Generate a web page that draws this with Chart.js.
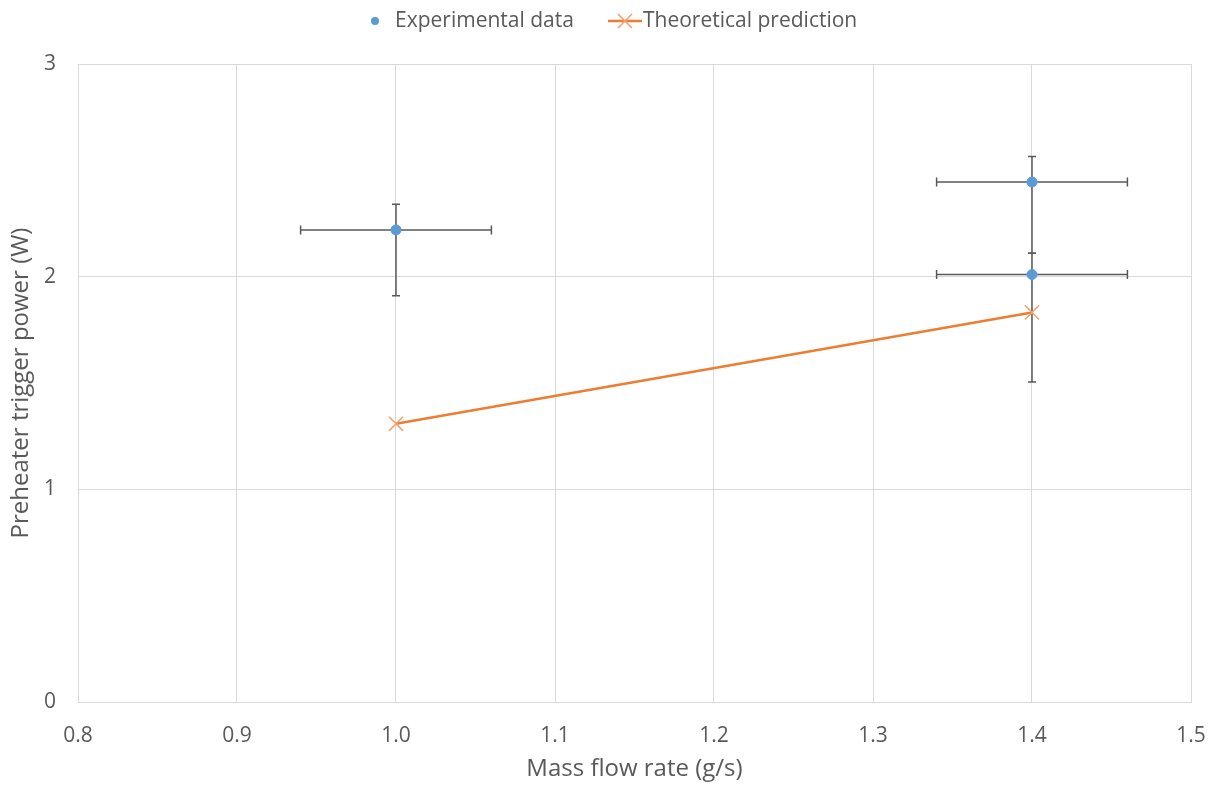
<!DOCTYPE html>
<html>
<head>
<meta charset="utf-8">
<script src="https://cdn.jsdelivr.net/npm/chart.js@4.4.0/dist/chart.umd.min.js"></script>
<style>
html,body{margin:0;padding:0;background:#fff;}
#wrap{width:1215px;height:785px;position:relative;}
</style>
</head>
<body>
<div id="wrap"><canvas id="c" width="1215" height="785"></canvas></div>
<script>
// Data
const expX = [1.0, 1.4, 1.4];
const expY = [2.22, 2.445, 2.01];
const expYPlus = [0.12, 0.12, 0.10];
const expYMinus = [0.31, 0.335, 0.505];
const expXErr = [0.06, 0.06, 0.06];
const theoX = [1.0, 1.4];
const theoY = [1.308, 1.832];
const xTicks = [0.8, 0.9, 1.0, 1.1, 1.2, 1.3, 1.4, 1.5];
const yTicks = [0, 1, 2, 3];
const seriesNames = ['Experimental data', 'Theoretical prediction'];
const axisTitles = {x: 'Mass flow rate (g/s)', y: 'Preheater trigger power (W)'};

const FONT = "'Open Sans', sans-serif";
const BLUE = '#5B9BD5';
const ORANGE = '#ED7D31';
const ORANGE_MK = 'rgba(244,160,110,1)';
const ERR = '#595959';
const TXT = '#595959';

const errorBars = {
  id: 'errorBars',
  beforeDatasetsDraw(chart) {
    const {ctx, scales: {x, y}} = chart;
    ctx.save();
    ctx.strokeStyle = ERR;
    ctx.lineWidth = 1.5;
    for (let i = 0; i < expX.length; i++) {
      const cx = x.getPixelForValue(expX[i]);
      const cy = y.getPixelForValue(expY[i]);
      const yt = y.getPixelForValue(expY[i] + expYPlus[i]);
      const yb = y.getPixelForValue(expY[i] - expYMinus[i]);
      const xl = x.getPixelForValue(expX[i] - expXErr[i]);
      const xr = x.getPixelForValue(expX[i] + expXErr[i]);
      ctx.beginPath();
      ctx.moveTo(cx, yt); ctx.lineTo(cx, yb);
      ctx.moveTo(cx - 4, yt); ctx.lineTo(cx + 4, yt);
      ctx.moveTo(cx - 4, yb); ctx.lineTo(cx + 4, yb);
      ctx.moveTo(xl, cy); ctx.lineTo(xr, cy);
      ctx.moveTo(xl, cy - 4.5); ctx.lineTo(xl, cy + 4.5);
      ctx.moveTo(xr, cy - 4.5); ctx.lineTo(xr, cy + 4.5);
      ctx.stroke();
    }
    ctx.restore();
  }
};

const legendPlugin = {
  id: 'customLegend',
  afterDraw(chart) {
    const ctx = chart.ctx;
    ctx.save();
    const ly = 21;
    ctx.fillStyle = BLUE;
    ctx.beginPath(); ctx.arc(375, ly, 4, 0, Math.PI * 2); ctx.fill();
    ctx.font = "21px " + FONT;
    ctx.fillStyle = TXT;
    ctx.textBaseline = 'middle';
    ctx.textAlign = 'left';
    ctx.fillText(seriesNames[0], 395, ly);
    ctx.strokeStyle = ORANGE; ctx.lineWidth = 2.5;
    ctx.beginPath(); ctx.moveTo(608, ly); ctx.lineTo(642, ly); ctx.stroke();
    ctx.strokeStyle = ORANGE_MK; ctx.lineWidth = 1.5;
    ctx.beginPath();
    ctx.moveTo(618, ly - 7); ctx.lineTo(632, ly + 7);
    ctx.moveTo(632, ly - 7); ctx.lineTo(618, ly + 7);
    ctx.stroke();
    ctx.fillStyle = TXT;
    ctx.fillText(seriesNames[1], 643, ly);
    ctx.restore();
  }
};

new Chart(document.getElementById('c'), {
  type: 'scatter',
  data: {
    datasets: [
      {
        label: seriesNames[0],
        data: expX.map((v, i) => ({x: v, y: expY[i]})),
        backgroundColor: BLUE,
        borderColor: BLUE,
        pointRadius: 5,
        pointHoverRadius: 5,
        showLine: false
      },
      {
        label: seriesNames[1],
        data: theoX.map((v, i) => ({x: v, y: theoY[i]})),
        borderColor: ORANGE,
        backgroundColor: ORANGE,
        borderWidth: 2.5,
        showLine: true,
        pointStyle: 'crossRot',
        pointRadius: 10,
        pointBorderColor: ORANGE_MK,
        pointBorderWidth: 1.5
      }
    ]
  },
  options: {
    responsive: false,
    animation: false,
    layout: {padding: {top: 64, right: 24, left: 0, bottom: 0}},
    plugins: {legend: {display: false}, tooltip: {enabled: false}},
    scales: {
      x: {
        type: 'linear', min: 0.8, max: 1.5,
        afterBuildTicks(s) { s.ticks = xTicks.map(v => ({value: v})); },
        afterFit(s) { s.height = 83; s.paddingLeft = 0; s.paddingRight = 0; },
        grid: {color: '#d9d9d9', lineWidth: 1, drawTicks: false},
        border: {color: '#d9d9d9'},
        ticks: {padding: 21, color: TXT, font: {family: FONT, size: 21},
          callback: v => Number(v).toFixed(1)},
        title: {display: true, text: axisTitles.x, color: TXT,
          font: {family: FONT, size: 24}, padding: {top: 0, bottom: 1}}
      },
      y: {
        type: 'linear', min: 0, max: 3,
        afterBuildTicks(s) { s.ticks = yTicks.map(v => ({value: v})); },
        afterFit(s) { s.width = 78; s.paddingTop = 0; s.paddingBottom = 0; },
        grid: {color: '#d9d9d9', lineWidth: 1, drawTicks: false},
        border: {color: '#d9d9d9'},
        ticks: {padding: 22, color: TXT, font: {family: FONT, size: 21},
          callback: v => String(v)},
        title: {display: true, text: axisTitles.y, color: TXT,
          font: {family: FONT, size: 24}, padding: {top: 7, bottom: 0}}
      }
    }
  },
  plugins: [errorBars, legendPlugin]
});
</script>
</body>
</html>
